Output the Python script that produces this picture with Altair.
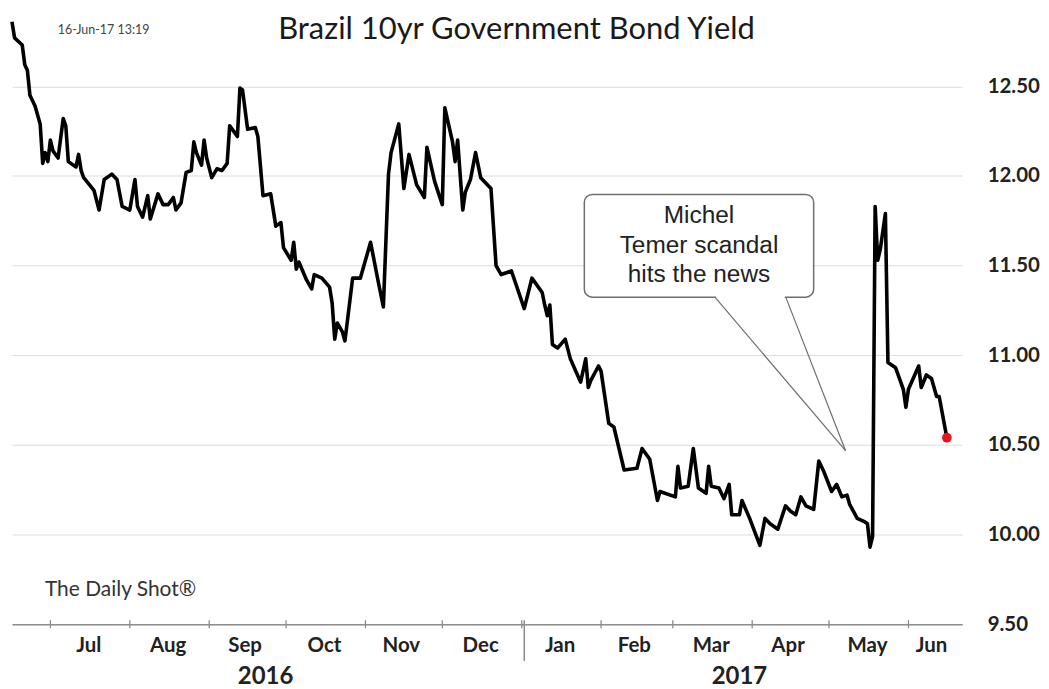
import altair as alt
import pandas as pd

# ---- data (day offset from 2016-06-16, yield %) ----
day_offsets = [0, 1, 4, 5, 6, 7, 9, 11, 12, 13, 14, 15, 16, 18, 20, 21, 22, 25, 26, 27,
               28, 32, 34, 36, 39, 41, 43, 46, 48, 49, 51, 53, 54, 57, 59, 61, 63, 64, 66, 68,
               70, 71, 72, 74, 75, 76, 78, 80, 82, 84, 85, 87, 88, 89, 90, 92, 95, 96, 98, 101,
               103, 105, 106, 109, 110, 111, 112, 115, 117, 118, 121, 124, 125, 126, 127, 129, 130, 133, 136, 140,
               143, 145, 147, 148, 151, 153, 155, 158, 161, 162, 165, 168, 169, 172, 173, 174, 176, 177, 179, 181,
               183, 187, 189, 191, 195, 200, 203, 207, 208, 209, 210, 211, 213, 216, 218, 222, 224, 225, 226, 229,
               230, 233, 235, 237, 239, 244, 246, 249, 252, 253, 259, 260, 261, 264, 266, 268, 271, 272, 273, 276,
               278, 280, 281, 284, 285, 288, 292, 294, 296, 299, 302, 304, 306, 308, 310, 313, 315, 317, 320, 322,
               324, 326, 327, 330, 333, 334, 335, 336, 337, 338, 339, 341, 342, 345, 347, 348, 349, 350, 354, 355,
               357, 359, 361, 362, 365]
yields = [12.86, 12.77, 12.73, 12.62, 12.59, 12.45, 12.39, 12.29, 12.07, 12.13, 12.08, 12.20, 12.14, 12.10, 12.32, 12.28, 12.08, 12.05, 12.12, 12.03,
          11.99, 11.92, 11.81, 11.98, 12.01, 11.98, 11.83, 11.81, 11.98, 11.83, 11.77, 11.89, 11.76, 11.90, 11.84, 11.84, 11.88, 11.81, 11.85, 12.02,
          12.03, 12.19, 12.13, 12.06, 12.20, 12.10, 11.99, 12.04, 12.03, 12.07, 12.28, 12.24, 12.22, 12.49, 12.48, 12.26, 12.27, 12.22, 11.89, 11.90,
          11.72, 11.74, 11.60, 11.53, 11.63, 11.48, 11.52, 11.42, 11.37, 11.45, 11.43, 11.38, 11.29, 11.09, 11.18, 11.13, 11.08, 11.43, 11.43, 11.63,
          11.41, 11.27, 12.01, 12.13, 12.29, 11.93, 12.12, 11.95, 11.88, 12.16, 11.97, 11.84, 12.38, 12.19, 12.08, 12.20, 11.81, 11.91, 11.98, 12.13,
          11.99, 11.93, 11.50, 11.45, 11.47, 11.26, 11.43, 11.35, 11.28, 11.22, 11.28, 11.06, 11.04, 11.09, 10.98, 10.85, 10.98, 10.82, 10.86, 10.94,
          10.91, 10.62, 10.60, 10.48, 10.36, 10.37, 10.48, 10.42, 10.19, 10.24, 10.21, 10.38, 10.26, 10.27, 10.48, 10.26, 10.23, 10.38, 10.27, 10.26,
          10.20, 10.28, 10.11, 10.11, 10.19, 10.09, 9.94, 10.09, 10.06, 10.03, 10.16, 10.13, 10.11, 10.21, 10.16, 10.14, 10.41, 10.35, 10.24, 10.28,
          10.21, 10.22, 10.17, 10.09, 10.07, 10.06, 9.93, 9.99, 11.83, 11.53, 11.59, 11.79, 10.96, 10.93, 10.85, 10.81, 10.71, 10.81, 10.94, 10.82,
          10.89, 10.87, 10.77, 10.77, 10.54]

month_names = ["Jul", "Aug", "Sep", "Oct", "Nov", "Dec", "Jan", "Feb", "Mar", "Apr", "May", "Jun"]
month_label_dates = ["2016-07-16", "2016-08-16", "2016-09-15", "2016-10-16", "2016-11-15", "2016-12-16",
                     "2017-01-16", "2017-02-14", "2017-03-16", "2017-04-15", "2017-05-16", "2017-06-10"]
month_starts = ["2016-07-01", "2016-08-01", "2016-09-01", "2016-10-01", "2016-11-01", "2016-12-01",
                "2017-01-01", "2017-02-01", "2017-03-01", "2017-04-01", "2017-05-01", "2017-06-01"]
year_names = ["2016", "2017"]
year_label_dates = ["2016-09-23", "2017-03-27"]
year_break = ["2017-01-02"]
y_ticks = [9.5, 10.0, 10.5, 11.0, 11.5, 12.0, 12.5]

title_text = ["Brazil 10yr Government Bond Yield"]
stamp_text = ["16-Jun-17 13:19"]
source_text = ["The Daily Shot®"]
callout_text = ["Michel\nTemer scandal\nhits the news"]

# ---- build tables ----
start = pd.Timestamp("2016-06-16")
df = pd.DataFrame({"date": [start + pd.Timedelta(days=d) for d in day_offsets], "yld": yields})
last = df.tail(1)
months_df = pd.DataFrame({"m": month_names, "date": pd.to_datetime(month_label_dates)})
ticks_df = pd.DataFrame({"date": pd.to_datetime(month_starts)})
years_df = pd.DataFrame({"y": year_names, "date": pd.to_datetime(year_label_dates)})
break_df = pd.DataFrame({"date": pd.to_datetime(year_break)})

W, H = 953, 615
FONT = "Lato"

xscale = alt.Scale(domain=[alt.DateTime(year=2016, month=6, date=16),
                           alt.DateTime(year=2017, month=6, date=22)], nice=False)
yscale = alt.Scale(domain=[9.5, 12.92], nice=False, zero=False)

x_enc = alt.X("date:T", scale=xscale,
              axis=alt.Axis(labels=False, ticks=False, grid=False, title=None,
                            domainColor="#8c8c8c", domainWidth=1.5))
y_enc = alt.Y("yld:Q", scale=yscale,
              axis=alt.Axis(orient="right", values=y_ticks, format=".2f", title=None,
                            grid=True, gridColor="#dcdcdc", gridWidth=1,
                            domain=False, ticks=False, labelPadding=25,
                            labelFont=FONT, labelFontWeight="bold", labelFontSize=20.5,
                            labelColor="#222222"))

line = alt.Chart(df).mark_line(color="black", strokeWidth=3.6, strokeJoin="round").encode(x=x_enc, y=y_enc)
dot = alt.Chart(last).mark_circle(color="#e8141b", size=95, opacity=1).encode(
    x=alt.X("date:T", scale=xscale), y=alt.Y("yld:Q", scale=yscale))

month_ticks = alt.Chart(ticks_df).mark_rule(color="#8c8c8c", strokeWidth=1.3).encode(
    x=alt.X("date:T", scale=xscale), y=alt.value(H - 4), y2=alt.value(H + 4))
sep = alt.Chart(break_df).mark_rule(color="#8c8c8c", strokeWidth=1.5).encode(
    x=alt.X("date:T", scale=xscale), y=alt.value(H - 4), y2=alt.value(H + 37))
month_labels = alt.Chart(months_df).mark_text(
    font=FONT, fontWeight="bold", fontSize=20.5, color="#222222", baseline="alphabetic", align="center"
).encode(x=alt.X("date:T", scale=xscale), y=alt.value(H + 28), text="m:N")
year_labels = alt.Chart(years_df).mark_text(
    font=FONT, fontWeight="bold", fontSize=24, color="#222222", baseline="alphabetic", align="center"
).encode(x=alt.X("date:T", scale=xscale), y=alt.value(H + 60), text="y:N")

title = alt.Chart(pd.DataFrame({"t": title_text})).mark_text(
    font=FONT, fontSize=31, color="#1a1a1a", align="center", baseline="alphabetic"
).encode(x=alt.value(506), y=alt.value(28), text="t:N")
stamp = alt.Chart(pd.DataFrame({"t": stamp_text})).mark_text(
    font=FONT, fontSize=12.5, color="#444444", align="left", baseline="alphabetic"
).encode(x=alt.value(46), y=alt.value(23), text="t:N")
source = alt.Chart(pd.DataFrame({"t": source_text})).mark_text(
    font=FONT, fontSize=21, color="#333333", align="left", baseline="alphabetic"
).encode(x=alt.value(33), y=alt.value(587), text="t:N")

one = pd.DataFrame({"k": [0]})
bubble = alt.Chart(one).mark_rect(fill="white", stroke="#6e6e6e", strokeWidth=1.5, cornerRadius=8).encode(
    x=alt.value(574), x2=alt.value(804), y=alt.value(184), y2=alt.value(287))
gap = alt.Chart(one).mark_rule(color="white", strokeWidth=3).encode(
    x=alt.value(706), x2=alt.value(775), y=alt.value(287), y2=alt.value(287))
tail1 = alt.Chart(one).mark_rule(color="#6e6e6e", strokeWidth=1.2).encode(
    x=alt.value(705), x2=alt.value(836), y=alt.value(287), y2=alt.value(441))
tail2 = alt.Chart(one).mark_rule(color="#6e6e6e", strokeWidth=1.2).encode(
    x=alt.value(776), x2=alt.value(836), y=alt.value(287), y2=alt.value(441))
callout = alt.Chart(pd.DataFrame({"t": callout_text})).mark_text(
    font="Liberation Sans", fontSize=24.5, color="#222222", align="center", baseline="alphabetic",
    lineBreak="\n", lineHeight=29.5
).encode(x=alt.value(689), y=alt.value(213), text="t:N")

chart = alt.layer(
    line, dot, month_ticks, sep, month_labels, year_labels,
    title, stamp, source, bubble, gap, tail1, tail2, callout
).properties(
    width=W, height=H,
    autosize=alt.AutoSizeParams(type="none"),
    padding={"left": 4, "top": 2, "right": 79, "bottom": 64},
    background="white",
).configure_view(stroke=None)

chart.save("out.html", embed_options={"renderer": "svg", "actions": False})
